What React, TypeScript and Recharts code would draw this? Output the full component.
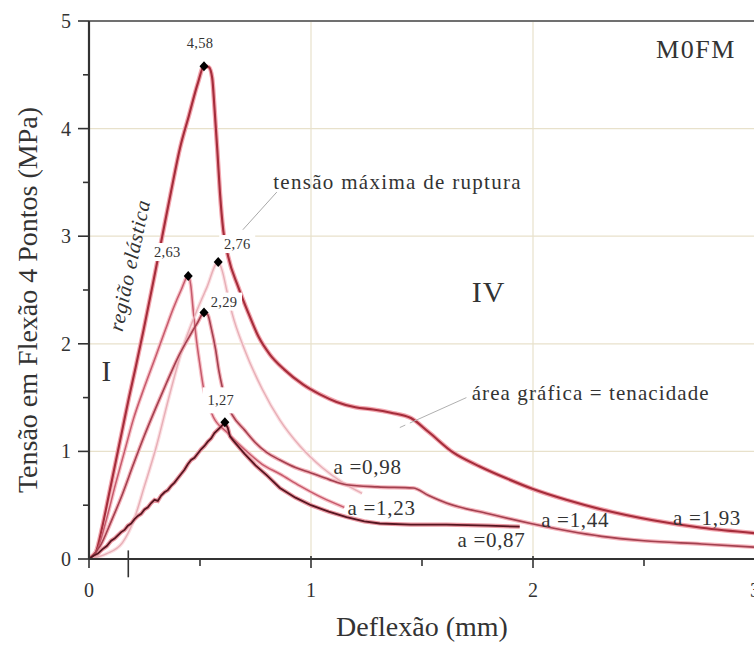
import React from "react";
import {
  ComposedChart,
  Line,
  Scatter,
  XAxis,
  YAxis,
  CartesianGrid,
  ReferenceLine,
  ReferenceDot,
} from "recharts";

const SERIF = '"Liberation Serif", "Times New Roman", serif';
const INK = "#333";

// deflexão (mm) x tensão (MPa), uma curva por corpo de prova
const curveA = [
  { x: 0, y: 0 }, { x: 0.03, y: 0.06 }, { x: 0.06, y: 0.3 }, { x: 0.09, y: 0.6 },
  { x: 0.12, y: 0.9 }, { x: 0.15, y: 1.2 }, { x: 0.18, y: 1.5 }, { x: 0.21, y: 1.78 },
  { x: 0.245, y: 2.12 }, { x: 0.29, y: 2.58 }, { x: 0.33, y: 3.0 }, { x: 0.37, y: 3.42 },
  { x: 0.41, y: 3.82 }, { x: 0.45, y: 4.12 }, { x: 0.49, y: 4.42 }, { x: 0.518, y: 4.58 },
  { x: 0.54, y: 4.57 }, { x: 0.555, y: 4.47 }, { x: 0.565, y: 4.2 }, { x: 0.578, y: 3.8 },
  { x: 0.59, y: 3.4 }, { x: 0.605, y: 3.05 }, { x: 0.627, y: 2.81 }, { x: 0.672, y: 2.53 },
  { x: 0.717, y: 2.29 }, { x: 0.765, y: 2.06 }, { x: 0.815, y: 1.9 }, { x: 0.88, y: 1.76 },
  { x: 0.965, y: 1.62 }, { x: 1.04, y: 1.53 }, { x: 1.115, y: 1.46 }, { x: 1.2, y: 1.41 },
  { x: 1.28, y: 1.39 }, { x: 1.36, y: 1.36 }, { x: 1.45, y: 1.31 }, { x: 1.53, y: 1.18 },
  { x: 1.64, y: 0.99 }, { x: 1.76, y: 0.86 }, { x: 1.88, y: 0.75 }, { x: 2.0, y: 0.65 },
  { x: 2.15, y: 0.55 }, { x: 2.31, y: 0.46 }, { x: 2.54, y: 0.36 }, { x: 2.76, y: 0.29 },
  { x: 3.0, y: 0.24 },
];

const curveB = [
  { x: 0, y: 0 }, { x: 0.04, y: 0.1 }, { x: 0.08, y: 0.38 }, { x: 0.12, y: 0.7 },
  { x: 0.16, y: 1.0 }, { x: 0.2, y: 1.3 }, { x: 0.25, y: 1.6 }, { x: 0.3, y: 1.88 },
  { x: 0.344, y: 2.13 }, { x: 0.38, y: 2.33 }, { x: 0.415, y: 2.5 }, { x: 0.447, y: 2.63 },
  { x: 0.458, y: 2.55 }, { x: 0.47, y: 2.3 }, { x: 0.485, y: 2.02 }, { x: 0.5, y: 1.8 },
  { x: 0.515, y: 1.6 }, { x: 0.535, y: 1.45 }, { x: 0.56, y: 1.32 }, { x: 0.62, y: 1.18 },
  { x: 0.7, y: 1.02 }, { x: 0.78, y: 0.88 }, { x: 0.86, y: 0.79 }, { x: 0.95, y: 0.68 },
  { x: 1.05, y: 0.57 }, { x: 1.15, y: 0.48 },
];

const curveC = [
  { x: 0, y: 0 }, { x: 0.08, y: 0.05 }, { x: 0.15, y: 0.15 }, { x: 0.2, y: 0.35 },
  { x: 0.25, y: 0.68 }, { x: 0.3, y: 1.02 }, { x: 0.366, y: 1.55 }, { x: 0.42, y: 1.95 },
  { x: 0.48, y: 2.28 }, { x: 0.53, y: 2.52 }, { x: 0.582, y: 2.76 }, { x: 0.6, y: 2.68 },
  { x: 0.62, y: 2.5 }, { x: 0.645, y: 2.28 }, { x: 0.7, y: 1.95 }, { x: 0.78, y: 1.58 },
  { x: 0.86, y: 1.29 }, { x: 0.95, y: 1.05 }, { x: 1.05, y: 0.85 }, { x: 1.15, y: 0.7 },
  { x: 1.23, y: 0.61 },
];

const curveD = [
  { x: 0, y: 0 }, { x: 0.05, y: 0.12 }, { x: 0.1, y: 0.35 }, { x: 0.15, y: 0.6 },
  { x: 0.2, y: 0.88 }, { x: 0.25, y: 1.15 }, { x: 0.3, y: 1.4 }, { x: 0.35, y: 1.64 },
  { x: 0.4, y: 1.87 }, { x: 0.45, y: 2.06 }, { x: 0.49, y: 2.2 }, { x: 0.518, y: 2.29 },
  { x: 0.535, y: 2.27 }, { x: 0.55, y: 2.15 }, { x: 0.57, y: 1.95 }, { x: 0.585, y: 1.75 },
  { x: 0.6, y: 1.6 }, { x: 0.62, y: 1.45 }, { x: 0.645, y: 1.34 }, { x: 0.7, y: 1.2 },
  { x: 0.75, y: 1.08 }, { x: 0.8, y: 0.99 }, { x: 0.86, y: 0.92 }, { x: 0.93, y: 0.85 },
  { x: 1.0, y: 0.8 }, { x: 1.08, y: 0.74 }, { x: 1.16, y: 0.69 }, { x: 1.3, y: 0.67 },
  { x: 1.46, y: 0.66 }, { x: 1.53, y: 0.59 }, { x: 1.61, y: 0.52 }, { x: 1.8, y: 0.42 },
  { x: 1.99, y: 0.33 }, { x: 2.16, y: 0.26 }, { x: 2.31, y: 0.21 }, { x: 2.5, y: 0.17 },
  { x: 2.76, y: 0.14 }, { x: 3.0, y: 0.11 },
];

const curveE = [
  { x: 0, y: 0 }, { x: 0.02, y: 0.03 }, { x: 0.04, y: 0.05 }, { x: 0.06, y: 0.09 },
  { x: 0.08, y: 0.12 }, { x: 0.1, y: 0.17 }, { x: 0.115, y: 0.19 }, { x: 0.13, y: 0.22 },
  { x: 0.145, y: 0.25 }, { x: 0.16, y: 0.27 }, { x: 0.175, y: 0.31 }, { x: 0.19, y: 0.33 },
  { x: 0.205, y: 0.37 }, { x: 0.22, y: 0.4 }, { x: 0.235, y: 0.42 }, { x: 0.25, y: 0.46 },
  { x: 0.265, y: 0.48 }, { x: 0.28, y: 0.52 }, { x: 0.295, y: 0.55 }, { x: 0.31, y: 0.54 },
  { x: 0.325, y: 0.59 }, { x: 0.34, y: 0.62 }, { x: 0.355, y: 0.64 }, { x: 0.37, y: 0.68 },
  { x: 0.385, y: 0.71 }, { x: 0.4, y: 0.75 }, { x: 0.415, y: 0.79 }, { x: 0.43, y: 0.83 },
  { x: 0.445, y: 0.88 }, { x: 0.46, y: 0.92 }, { x: 0.475, y: 0.94 }, { x: 0.49, y: 0.98 },
  { x: 0.505, y: 1.02 }, { x: 0.52, y: 1.05 }, { x: 0.535, y: 1.09 }, { x: 0.55, y: 1.12 },
  { x: 0.565, y: 1.17 }, { x: 0.58, y: 1.2 }, { x: 0.595, y: 1.23 }, { x: 0.612, y: 1.27 },
  { x: 0.625, y: 1.22 }, { x: 0.635, y: 1.14 }, { x: 0.65, y: 1.1 }, { x: 0.7, y: 0.98 },
  { x: 0.75, y: 0.87 }, { x: 0.8, y: 0.78 }, { x: 0.86, y: 0.66 }, { x: 0.93, y: 0.57 },
  { x: 1.0, y: 0.5 }, { x: 1.08, y: 0.44 }, { x: 1.16, y: 0.39 }, { x: 1.24, y: 0.35 },
  { x: 1.31, y: 0.33 }, { x: 1.45, y: 0.32 }, { x: 1.61, y: 0.32 }, { x: 1.8, y: 0.31 },
  { x: 1.94, y: 0.3 },
];

// tensão máxima de cada curva
const peaks = [
  { x: 0.518, y: 4.58 },
  { x: 0.447, y: 2.63 },
  { x: 0.582, y: 2.76 },
  { x: 0.518, y: 2.29 },
  { x: 0.612, y: 1.27 },
];

// área sob cada curva
const areaLabels = [
  { x: 1.255, y: 0.855, text: "a =0,98" },
  { x: 1.318, y: 0.474, text: "a =1,23" },
  { x: 1.813, y: 0.177, text: "a =0,87" },
  { x: 2.19, y: 0.362, text: "a =1,44" },
  { x: 2.784, y: 0.381, text: "a =1,93" },
];

const xTicks = [0, 0.5, 1, 1.5, 2, 2.5, 3];
const yTicks = [0, 0.5, 1, 1.5, 2, 2.5, 3, 3.5, 4, 4.5, 5];
const gridX = [1, 2];
const gridY = [1, 2, 3, 4];

// estilo de cada curva: núcleo escuro com contorno rosado
const curves = [
  { data: curveA, core: "#a52d3b", halo: "#f3a7b0", width: 2.1, type: "monotone" },
  { data: curveB, core: "#c65a6c", halo: "#f7c2c8", width: 1.5, type: "monotone" },
  { data: curveC, core: "#e7aeb6", halo: "#fbe0e3", width: 1.4, type: "monotone" },
  { data: curveD, core: "#a3404f", halo: "#f4b3bb", width: 1.6, type: "monotone" },
  { data: curveE, core: "#561520", halo: "#eb9aa4", width: 1.8, type: "linear" },
] as const;

// deslocamento (px) e altura do fundo branco de cada rótulo de pico
const peakLabelOffsets = [
  [-4, -23, 18],
  [-21, -24, 18],
  [19, -18, 18],
  [20, -11, 18],
  [-4, -22, 26],
];

function YTick(props: any) {
  const { x, y, payload } = props;
  const major = payload.value % 1 === 0;
  return (
    <g>
      <line x1={x - (major ? 11 : 6)} y1={y} x2={x} y2={y} stroke={INK} strokeWidth={1.6} />
      {major && (
        <text x={x - 18} y={y} dy="0.35em" textAnchor="end" fontFamily={SERIF} fontSize={20} fill={INK}>
          {payload.value}
        </text>
      )}
    </g>
  );
}

function XTick(props: any) {
  const { x, y, payload } = props;
  const major = payload.value % 1 === 0;
  return (
    <g>
      <line x1={x} y1={major ? y - 3 : y} x2={x} y2={y + (major ? 9 : 7)} stroke={INK} strokeWidth={1.6} />
      {major && (
        <text x={x} y={y + 31} dy="0.35em" textAnchor="middle" fontFamily={SERIF} fontSize={20} fill={INK}>
          {payload.value}
        </text>
      )}
    </g>
  );
}

function PeakMarker(props: any) {
  const { cx, cy, payload } = props;
  const i = peaks.findIndex((p) => p.x === payload.x && p.y === payload.y);
  const [dx, dy, h] = peakLabelOffsets[i] ?? [0, -20, 18];
  const text = payload.y.toFixed(2).replace(".", ",");
  const lx = cx + dx;
  const ly = cy + dy;
  return (
    <g>
      <rect x={lx - 18} y={ly - h / 2} width={36} height={h} fill="#fff" />
      <text x={lx} y={ly} dy="0.35em" textAnchor="middle" fontFamily={SERIF} fontSize={14.5}
        letterSpacing={0.3} fill={INK}>
        {text}
      </text>
      <polygon
        points={`${cx},${cy - 5} ${cx + 4.5},${cy} ${cx},${cy + 5} ${cx - 4.5},${cy}`}
        fill="#000"
      />
    </g>
  );
}

function note(text: string, size: number, extra: Record<string, any> = {}) {
  return (p: any) => (
    <text
      x={p.cx}
      y={p.cy}
      dy="0.35em"
      textAnchor="middle"
      fontFamily={SERIF}
      fontSize={size}
      fill={INK}
      {...extra}
    >
      {text}
    </text>
  );
}

function YTitle(props: any) {
  const vb = props.viewBox;
  const cx = vb.x + 27;
  const cy = vb.y + vb.height / 2 + 10;
  return (
    <text x={cx} y={cy} dy="0.35em" textAnchor="middle" fontFamily={SERIF} fontSize={28} fill={INK}
      transform={`rotate(-90 ${cx} ${cy})`}>
      Tensão em Flexão 4 Pontos (MPa)
    </text>
  );
}

function XTitle(props: any) {
  const vb = props.viewBox;
  return (
    <text x={vb.x + vb.width / 2} y={vb.y + 67} dy="0.35em" textAnchor="middle" fontFamily={SERIF}
      fontSize={28} fill={INK}>
      Deflexão (mm)
    </text>
  );
}

export default function App() {
  return (
    <div
      style={{
        position: "fixed",
        left: 0,
        top: 0,
        width: 754,
        height: 646,
        overflow: "hidden",
        background: "#fff",
      }}
    >
      <ComposedChart width={800} height={646} margin={{ top: 21, right: 45, bottom: 0, left: 0 }}>
        <CartesianGrid stroke="#e8e1cb" strokeWidth={1.2} horizontalValues={gridY} verticalValues={gridX} />
        <XAxis
          type="number"
          dataKey="x"
          domain={[0, 3]}
          ticks={xTicks}
          allowDataOverflow
          height={87}
          tickSize={0}
          tickMargin={0}
          tickLine={false}
          tick={<XTick />}
          axisLine={{ stroke: INK, strokeWidth: 2.2 }}
          label={XTitle}
        />
        <YAxis
          type="number"
          dataKey="y"
          domain={[0, 5]}
          ticks={yTicks}
          allowDataOverflow
          width={89}
          tickSize={0}
          tickMargin={0}
          tickLine={false}
          tick={<YTick />}
          axisLine={{ stroke: INK, strokeWidth: 2.2 }}
          label={YTitle}
        />
        <ReferenceLine y={5} stroke="#707070" strokeWidth={2} />
        <ReferenceLine
          segment={[{ x: 0.177, y: -0.17 }, { x: 0.177, y: 0.08 }]}
          stroke={INK}
          strokeWidth={1.6}
          ifOverflow="visible"
        />
        {curves.map((c, i) => (
          <Line
            key={`h${i}`}
            data={c.data as any}
            dataKey="y"
            type={c.type}
            stroke={c.halo}
            strokeWidth={c.width + 2.4}
            dot={false}
            activeDot={false}
            isAnimationActive={false}
          />
        ))}
        {curves.map((c, i) => (
          <Line
            key={`c${i}`}
            data={c.data as any}
            dataKey="y"
            type={c.type}
            stroke={c.core}
            strokeWidth={c.width}
            dot={false}
            activeDot={false}
            isAnimationActive={false}
          />
        ))}
        <ReferenceLine
          segment={[{ x: 0.846, y: 3.41 }, { x: 0.693, y: 3.06 }]}
          stroke="#a8a8a8"
          strokeWidth={1}
        />
        <ReferenceLine
          segment={[{ x: 1.7, y: 1.5 }, { x: 1.355, y: 1.18 }]}
          stroke="#b0b0b0"
          strokeWidth={1}
          strokeDasharray="62 5 6"
        />
        <Scatter data={peaks} dataKey="y" shape={PeakMarker} isAnimationActive={false} />
        {areaLabels.map((a) => (
          <ReferenceDot key={a.text} x={a.x} y={a.y} r={0} shape={note(a.text, 21, { letterSpacing: 0.7 })} />
        ))}
        <ReferenceDot x={1.39} y={3.51} r={0} shape={note("tensão máxima de ruptura", 21, { letterSpacing: 1.3 })} />
        <ReferenceDot x={2.26} y={1.55} r={0} shape={note("área gráfica = tenacidade", 21, { letterSpacing: 1.1 })} />
        <ReferenceDot x={1.8} y={2.49} r={0} shape={note("IV", 30, { letterSpacing: 1 })} />
        <ReferenceDot x={0.078} y={1.75} r={0} shape={note("I", 29)} />
        <ReferenceDot x={2.734} y={4.74} r={0} shape={note("M0FM", 26, { letterSpacing: 1.5 })} />
        <ReferenceDot
          x={0.181}
          y={2.73}
          r={0}
          shape={(p: any) => (
            <text
              x={p.cx}
              y={p.cy}
              dy="0.35em"
              textAnchor="middle"
              fontFamily={SERIF}
              fontStyle="italic"
              fontSize={21}
              letterSpacing={0.6}
              fill={INK}
              transform={`rotate(-78 ${p.cx} ${p.cy})`}
            >
              região elástica
            </text>
          )}
        />
      </ComposedChart>
    </div>
  );
}
